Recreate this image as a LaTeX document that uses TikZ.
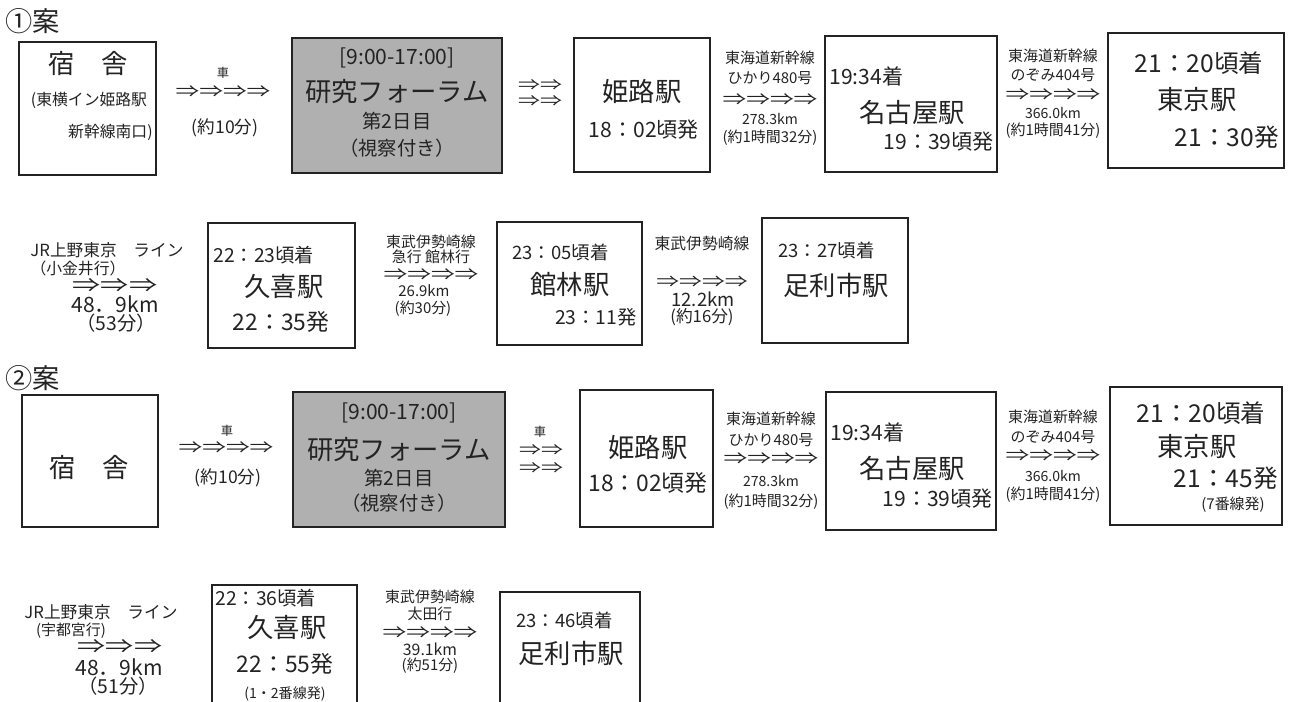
\documentclass[tikz,border=0pt]{standalone}
\usepackage{fontspec}
\setmainfont{Noto Sans CJK JP}
\usepackage{xcolor}
\usetikzlibrary{positioning}
\definecolor{ink}{RGB}{35,35,35}
\definecolor{forumgray}{RGB}{176,176,176}
\newcommand{\arrowrun}[1]{\scalebox{1}[0.7]{#1}}
\tikzset{
        stbox/.style={
            rectangle, draw=ink, line width=0.8pt,
            inner sep=0pt
        },
        forumbox/.style={
            stbox, fill=forumgray
        },
        plan/.style={font=\fontsize{15.5}{17}\selectfont},
        stname/.style={font=\fontsize{15}{17}\selectfont},
        clock/.style={font=\fontsize{12}{14}\selectfont},
        bigclock/.style={font=\fontsize{14}{16}\selectfont},
        smallclock/.style={font=\fontsize{10.5}{12}\selectfont},
        railname/.style={font=\fontsize{8.5}{10}\selectfont},
        via/.style={font=\fontsize{13.5}{15}\selectfont},
        bigvia/.style={font=\fontsize{16}{18}\selectfont},
        dist/.style={font=\fontsize{12}{14}\selectfont},
        note/.style={font=\fontsize{9}{11}\selectfont},
        carlabel/.style={font=\fontsize{7}{8}\selectfont}
    }

\begin{document}
\begin{tikzpicture}[
    x = 0.02cm, y = -0.02cm,
    every node/.style = {inner sep=0pt, text=ink},
  ]
    \useasboundingbox (0,0) rectangle (1291,701);
    \clip (0,0) rectangle (1291,701);

    % plan 1
    \node[plan] (planA) at (33,21) {①案};
    \node[stbox, minimum width=2.74cm, minimum height=2.66cm] (hotelA) at (87.5,108.5) {};
    \node[stname] (hotelAname) at (88,64) {宿　舎};
    \node[note] (hotelAsub) at (89,100) {(東横イン姫路駅};
    \node[note, anchor=east] (hotelAexit) at (153,132) {新幹線南口)};
    \node[carlabel] (carA1) at (223,73) {車};
    \node[via] (moveA1) at (223,92) {\arrowrun{⇒⇒⇒⇒}};
    \node[note, font=\fontsize{10}{12}\selectfont] (timeA1) at (225,128) {(約10分)};

    \node[forumbox, minimum width=4.2cm, minimum height=2.7cm] (forumA) at (397,105.5) {};
    \node[clock] (forumAtime) at (397,58) {[9:00-17:00]};
    \node[stname] (forumAname) at (397,92) {研究フォーラム};
    \node[font=\fontsize{11}{13}\selectfont] (forumAday) at (397,121) {第2日目};
    \node[font=\fontsize{11}{13}\selectfont] (forumAtour) at (397,148) {（視察付き）};

    \node[via, font=\fontsize{12.5}{14}\selectfont] (moveA2a) at (540,85) {\arrowrun{⇒⇒}};
    \node[via, font=\fontsize{12.5}{14}\selectfont] (moveA2b) at (540,101) {\arrowrun{⇒⇒}};

    \node[stbox, minimum width=2.72cm, minimum height=2.68cm] (himejiA) at (642,105) {};
    \node[stname] (himejiAname) at (642,92) {姫路駅};
    \node[clock] (himejiAdep) at (644,130) {18：02頃発};

    \node[railname] (hikariA1) at (770,58) {東海道新幹線};
    \node[railname] (hikariA2) at (770,78) {ひかり480号};
    \node[via] (hikariA3) at (770,100) {\arrowrun{⇒⇒⇒⇒}};
    \node[railname, font=\fontsize{8}{10}\selectfont] (hikariA4) at (770,119) {278.3km};
    \node[railname] (hikariA5) at (770,138) {(約1時間32分)};

    \node[stbox, minimum width=3.44cm, minimum height=2.72cm] (nagoyaA) at (911,104) {};
    \node[clock, anchor=west] (nagoyaAarr) at (829,76) {19:34着};
    \node[stname] (nagoyaAname) at (912,112) {名古屋駅};
    \node[clock, anchor=east] (nagoyaAdep) at (994,142) {19：39頃発};

    \node[railname] (nozomiA1) at (1053,56) {東海道新幹線};
    \node[railname] (nozomiA2) at (1053,75) {のぞみ404号};
    \node[via] (nozomiA3) at (1053,95) {\arrowrun{⇒⇒⇒⇒}};
    \node[railname, font=\fontsize{8}{10}\selectfont] (nozomiA4) at (1053,113) {366.0km};
    \node[railname] (nozomiA5) at (1053,131) {(約1時間41分)};

    \node[stbox, minimum width=3.52cm, minimum height=2.7cm] (tokyoA) at (1196,100.5) {};
    \node[bigclock] (tokyoAarr) at (1199,63) {21：20頃着};
    \node[stname] (tokyoAname) at (1197,100) {東京駅};
    \node[bigclock, anchor=east] (tokyoAdep) at (1279,137) {21：30発};

    \node[note, font=\fontsize{9.5}{11}\selectfont] (uenoA1) at (107,250) {JR上野東京　ライン};
    \node[note] (uenoA2) at (78,268) {（小金井行）};
    \node[bigvia] (uenoA3) at (115,286) {\arrowrun{⇒⇒⇒}};
    \node[dist] (uenoA4) at (115,304) {48．9km};
    \node[dist, font=\fontsize{11}{13}\selectfont] (uenoA5) at (116,323) {（53分）};

    \node[stbox, minimum width=2.94cm, minimum height=2.5cm] (kukiA) at (281.5,285.5) {};
    \node[smallclock, font=\fontsize{11}{13}\selectfont, anchor=west] (kukiAarr) at (213,255) {22：23頃着};
    \node[stname] (kukiAname) at (284,287) {久喜駅};
    \node[clock, font=\fontsize{13}{15}\selectfont] (kukiAdep) at (281,322) {22：35発};

    \node[railname] (isesakiA1) at (431,242) {東武伊勢崎線};
    \node[railname] (isesakiA2) at (431,257) {急行 館林行};
    \node[via] (isesakiA3) at (431,275) {\arrowrun{⇒⇒⇒⇒}};
    \node[railname] (isesakiA4) at (424,291) {26.9km};
    \node[railname] (isesakiA5) at (423,309) {(約30分)};

    \node[stbox, minimum width=2.9cm, minimum height=2.46cm] (tatebayashiA) at (569.5,283.5) {};
    \node[smallclock, anchor=west] (tatebayashiAarr) at (512,252) {23：05頃着};
    \node[stname] (tatebayashiAname) at (570,285) {館林駅};
    \node[smallclock, font=\fontsize{11}{13}\selectfont, anchor=east] (tatebayashiAdep) at (637,317) {23：11発};

    \node[railname, font=\fontsize{9}{11}\selectfont] (isesakiB1) at (702,243) {東武伊勢崎線};
    \node[via, font=\fontsize{13}{15}\selectfont] (isesakiB3) at (702,282) {\arrowrun{⇒⇒⇒⇒}};
    \node[note, font=\fontsize{10.5}{12}\selectfont] (isesakiB4) at (703,299) {12.2km};
    \node[note, font=\fontsize{9.5}{11}\selectfont] (isesakiB5) at (702,317) {(約16分)};

    \node[stbox, minimum width=2.92cm, minimum height=2.5cm] (ashikagaA) at (835,280.5) {};
    \node[smallclock, anchor=west] (ashikagaAarr) at (778,250) {23：27頃着};
    \node[stname] (ashikagaAname) at (836,285) {足利市駅};

    % plan 2
    \node[plan] (planB) at (33,378) {②案};
    \node[stbox, minimum width=2.72cm, minimum height=2.64cm] (hotelB) at (90,461) {};
    \node[stname] (hotelBname) at (89,467) {宿　舎};
    \node[carlabel] (carB1) at (227,431) {車};
    \node[via] (moveB1) at (226,448) {\arrowrun{⇒⇒⇒⇒}};
    \node[note, font=\fontsize{10}{12}\selectfont] (timeB1) at (228,478) {(約10分)};

    \node[forumbox, minimum width=4.24cm, minimum height=2.7cm] (forumB) at (399,459.5) {};
    \node[clock] (forumBtime) at (399,413) {[9:00-17:00]};
    \node[stname] (forumBname) at (399,450) {研究フォーラム};
    \node[font=\fontsize{11}{13}\selectfont] (forumBday) at (399,478) {第2日目};
    \node[font=\fontsize{11}{13}\selectfont] (forumBtour) at (399,503) {（視察付き）};

    \node[carlabel] (carB2) at (540,432) {車};
    \node[via, font=\fontsize{12.5}{14}\selectfont] (moveB2a) at (541,450) {\arrowrun{⇒⇒}};
    \node[via, font=\fontsize{12.5}{14}\selectfont] (moveB2b) at (541,468) {\arrowrun{⇒⇒}};

    \node[stbox, minimum width=2.66cm, minimum height=2.74cm] (himejiB) at (646.5,458.5) {};
    \node[stname] (himejiBname) at (648,448) {姫路駅};
    \node[clock, font=\fontsize{13}{15}\selectfont] (himejiBdep) at (648,483) {18：02頃発};

    \node[railname] (hikariB1) at (771,419) {東海道新幹線};
    \node[railname] (hikariB2) at (771,440) {ひかり480号};
    \node[via] (hikariB3) at (771,459) {\arrowrun{⇒⇒⇒⇒}};
    \node[railname, font=\fontsize{8}{10}\selectfont] (hikariB4) at (771,481) {278.3km};
    \node[railname] (hikariB5) at (771,502) {(約1時間32分)};

    \node[stbox, minimum width=3.4cm, minimum height=2.76cm] (nagoyaB) at (911,461) {};
    \node[clock, anchor=west] (nagoyaBarr) at (830,432) {19:34着};
    \node[stname] (nagoyaBname) at (912,468) {名古屋駅};
    \node[clock, anchor=east] (nagoyaBdep) at (993,499) {19：39頃発};

    \node[railname] (nozomiB1) at (1053,417) {東海道新幹線};
    \node[railname] (nozomiB2) at (1053,437) {のぞみ404号};
    \node[via] (nozomiB3) at (1053,456) {\arrowrun{⇒⇒⇒⇒}};
    \node[railname, font=\fontsize{8}{10}\selectfont] (nozomiB4) at (1053,476) {366.0km};
    \node[railname] (nozomiB5) at (1053,495) {(約1時間41分)};

    \node[stbox, minimum width=3.44cm, minimum height=2.76cm] (tokyoB) at (1196,456) {};
    \node[bigclock] (tokyoBarr) at (1201,413) {21：20頃着};
    \node[stname] (tokyoBname) at (1197,447) {東京駅};
    \node[bigclock, anchor=east] (tokyoBdep) at (1278,478) {21：45発};
    \node[railname] (tokyoBtrack) at (1233,505) {(7番線発)};

    \node[note, font=\fontsize{9.5}{11}\selectfont] (uenoB1) at (101,612) {JR上野東京　ライン};
    \node[note, font=\fontsize{8.5}{10}\selectfont] (uenoB2) at (71,631) {(宇都宮行)};
    \node[bigvia] (uenoB3) at (120,647) {\arrowrun{⇒⇒⇒}};
    \node[dist] (uenoB4) at (119,667) {48．9km};
    \node[dist, font=\fontsize{11}{13}\selectfont] (uenoB5) at (118,686) {（51分）};

    \node[stbox, minimum width=2.9cm, minimum height=2.7cm] (kukiB) at (284.5,652.5) {};
    \node[smallclock, font=\fontsize{11}{13}\selectfont, anchor=west] (kukiBarr) at (215,598) {22：36頃着};
    \node[stname] (kukiBname) at (287,628) {久喜駅};
    \node[clock, font=\fontsize{13}{15}\selectfont] (kukiBdep) at (285,664) {22：55発};
    \node[railname, font=\fontsize{8}{10}\selectfont] (kukiBtrack) at (285,694) {(1・2番線発)};

    \node[railname] (isesakiC1) at (430,597) {東武伊勢崎線};
    \node[railname] (isesakiC2) at (430,614) {太田行};
    \node[via] (isesakiC3) at (430,633) {\arrowrun{⇒⇒⇒⇒}};
    \node[railname, font=\fontsize{9}{11}\selectfont] (isesakiC4) at (430,649) {39.1km};
    \node[railname] (isesakiC5) at (430,666) {(約51分)};

    \node[stbox, minimum width=2.8cm, minimum height=2.56cm] (ashikagaB) at (570,656) {};
    \node[smallclock, anchor=west] (ashikagaBarr) at (516,620) {23：46頃着};
    \node[stname] (ashikagaBname) at (571,653) {足利市駅};

\end{tikzpicture}
\end{document}
